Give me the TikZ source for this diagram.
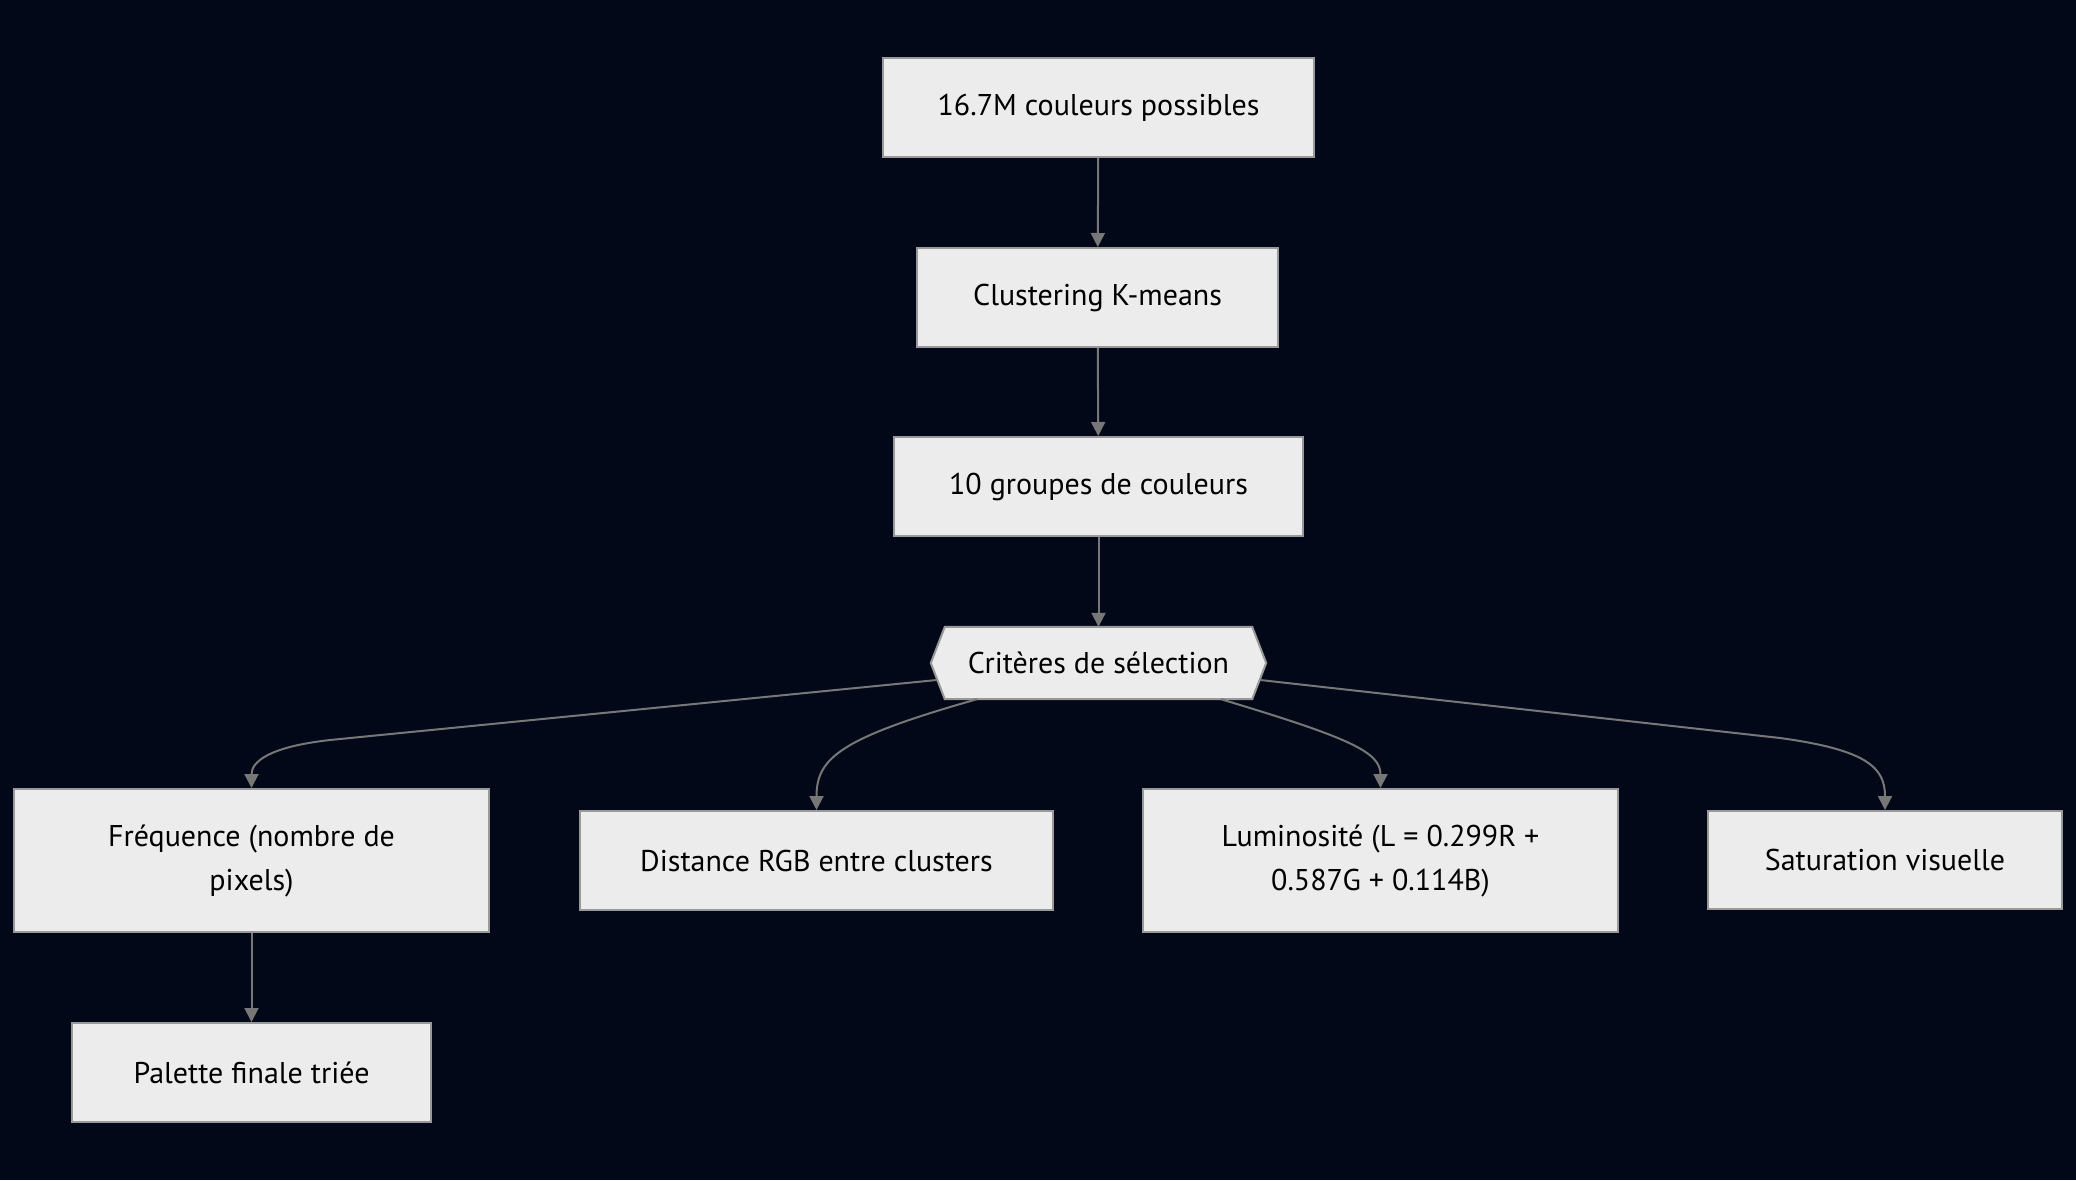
\documentclass[tikz,border=0pt]{standalone}
\usepackage{fontspec}
\setmainfont{PT Sans}
\usetikzlibrary{arrows.meta,calc}
\definecolor{bg}{HTML}{020817}
\definecolor{boxfill}{HTML}{ECECEC}
\definecolor{boxline}{HTML}{999999}
\definecolor{edgecol}{HTML}{777777}
\pgfdeclarelayer{backlayer}
\pgfsetlayers{backlayer,main}
\begin{document}
\begin{tikzpicture}[x=1pt,y=-1pt,
  box/.style={draw=boxline, fill=boxfill, line width=2pt, text=black,
    font=\fontsize{30}{44}\selectfont, align=center, inner sep=0pt},
  plain/.style={text=black, font=\fontsize{30}{44}\selectfont, align=center, inner sep=0pt},
  conn/.style={draw=edgecol, line width=2pt, -{Triangle[length=14pt,width=14pt]}}]
\begin{pgfonlayer}{backlayer}
\fill[bg] (0,0) rectangle (2076,1180);
\end{pgfonlayer}
\useasboundingbox (0,0) rectangle (2076,1180);

\node[box, minimum width=431, minimum height=99] (n1) at (1098.5,107.5) {16.7M couleurs possibles};
\node[box, minimum width=361, minimum height=99] (n2) at (1097.5,297.5) {Clustering K-means};
\node[box, minimum width=409, minimum height=99] (n3) at (1098.5,486.5) {10 groupes de couleurs};
\node[plain, minimum width=335, minimum height=72] (crit) at (1098.5,663) {Critères de sélection};
\begin{pgfonlayer}{backlayer}
\draw[draw=boxline, fill=boxfill, line width=2pt]
  (crit.west) -- ($(crit.north west)+(14,0)$) -- ($(crit.north east)+(-14,0)$)
  -- (crit.east) -- ($(crit.south east)+(-14,0)$) -- ($(crit.south west)+(14,0)$) -- cycle;
\end{pgfonlayer}
\node[box, minimum width=475, minimum height=143] (freq) at (251.5,860.5) {Fréquence (nombre de\\pixels)};
\node[box, minimum width=473, minimum height=99] (dist) at (816.5,860.5) {Distance RGB entre clusters};
\node[box, minimum width=475, minimum height=143] (lum) at (1380.5,860.5) {Luminosité (L = 0.299R +\\0.587G + 0.114B)};
\node[box, minimum width=354, minimum height=98] (sat) at (1885,860) {Saturation visuelle};
\node[box, minimum width=359, minimum height=99] (pal) at (251.5,1072.5) {Palette finale triée};

\draw[conn] (n1) -- (n2);
\draw[conn] (n2) -- (n3);
\draw[conn] (n3) -- (crit);
\draw[conn] (freq) -- (pal);

\coordinate (sf) at ($(crit.west)+(6,17)$);
\coordinate (sd) at ($(crit.south)+(-121.5,0)$);
\coordinate (sl) at ($(crit.south)+(122.5,0)$);
\coordinate (ss) at ($(crit.east)+(-6,17)$);

\draw[conn] (sf) -- (330,740) .. controls (268,747) and (251.5,762) .. (freq.north);
\draw[conn] (sd) .. controls (840,738) and (816.5,758) .. (dist.north);
\draw[conn] (sl) .. controls (1350,738) and (1380.5,752) .. (lum.north);
\draw[conn] (ss) -- (1780,738) .. controls (1868,750) and (1885,768) .. (sat.north);
\end{tikzpicture}
\end{document}
